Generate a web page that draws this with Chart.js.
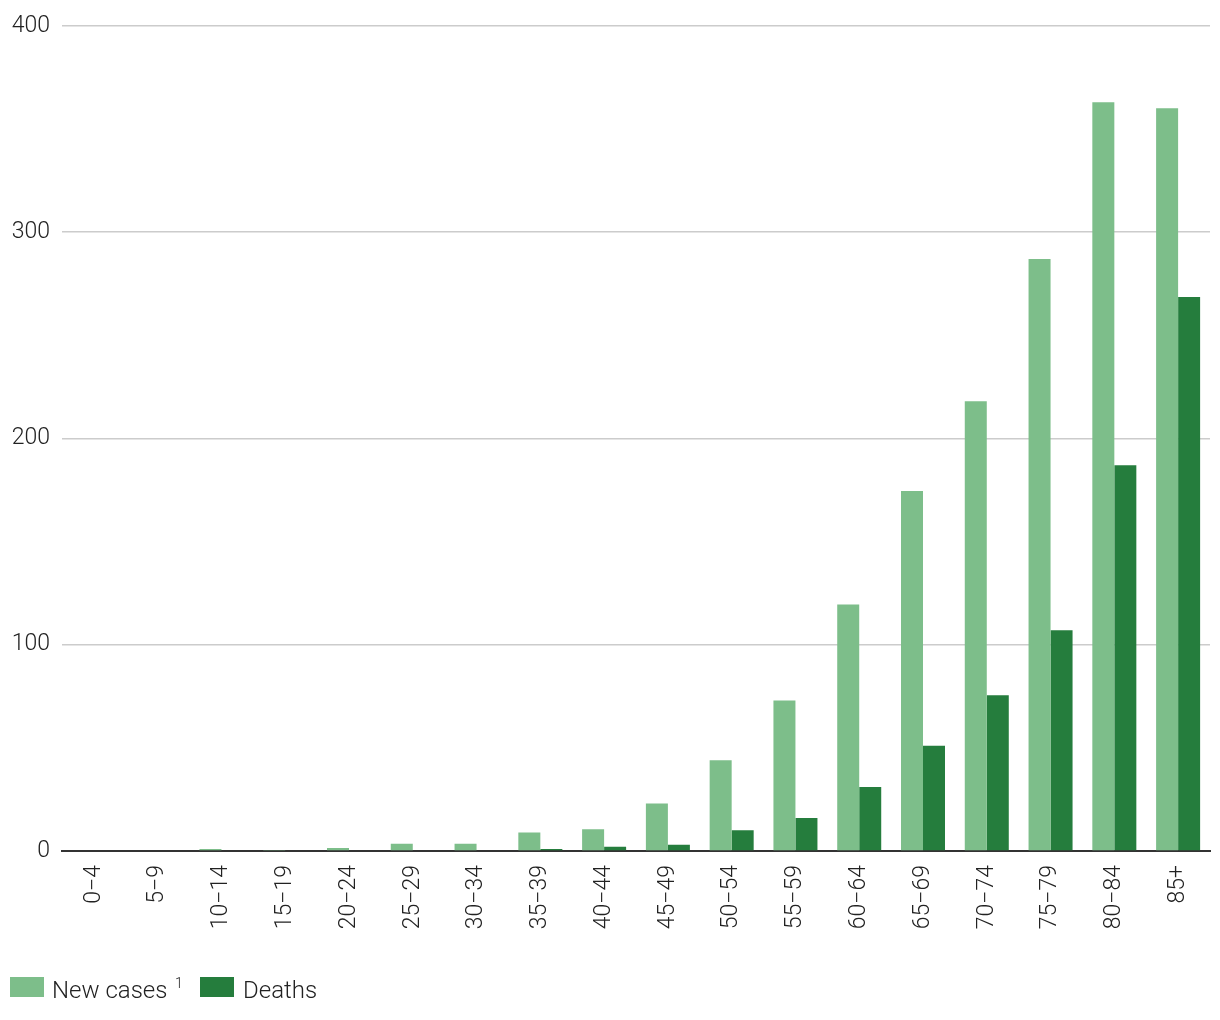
<!DOCTYPE html>
<html>
<head>
<meta charset="utf-8">
<script src="https://cdn.jsdelivr.net/npm/chart.js@4/dist/chart.umd.min.js"></script>
<style>
  html, body { margin: 0; padding: 0; background: #ffffff; }
  #wrap { width: 1220px; height: 1020px; position: relative; }
  #legend { position: absolute; left: 0; top: 0; width: 1220px; height: 1020px; pointer-events: none;
            font-family: Roboto, 'Noto Sans', sans-serif; font-weight: 300; color: #222; }
  #legend .box { position: absolute; width: 34px; height: 20px; }
  #legend .txt { position: absolute; font-size: 24px; line-height: 24px; white-space: nowrap; }
  #legend .sup { position: absolute; font-size: 14px; line-height: 14px; }
</style>
</head>
<body>
<div id="wrap"><canvas id="c"></canvas><div id="legend"></div></div>
<script>
const categories = ["0−4","5−9","10−14","15−19","20−24","25−29","30−34","35−39","40−44","45−49","50−54","55−59","60−64","65−69","70−74","75−79","80−84","85+"];
const newCases = [0, 0, 1, 0.5, 1.5, 3.5, 3.5, 9, 10.5, 23, 44, 73, 119.5, 174.5, 218, 287, 363, 360];
const deaths = [0, 0, 0, 0, 0, 0, 0, 1, 2, 3, 10, 16, 31, 51, 75.5, 107, 187, 268.5];
const yTicks = [0, 100, 200, 300, 400];
const seriesNames = ["New cases", "Deaths"];
const seriesColors = ["#7dbe8a", "#257d3d"];
const footnoteMark = "1";

const FONT = "Roboto, 'Noto Sans', sans-serif";

const chart = new Chart(document.getElementById('c'), {
  type: 'bar',
  data: {
    labels: categories,
    datasets: [
      { label: seriesNames[0], data: newCases, backgroundColor: seriesColors[0] },
      { label: seriesNames[1], data: deaths, backgroundColor: seriesColors[1] }
    ]
  },
  options: {
    responsive: true,
    maintainAspectRatio: false,
    animation: false,
    datasets: { bar: { categoryPercentage: 0.69, barPercentage: 1.0 } },
    layout: { padding: { left: 0, right: 10, top: 25, bottom: 56 } },
    plugins: {
      tooltip: { enabled: false },
      legend: { display: false }
    },
    scales: {
      x: {
        afterFit: (s) => { s.height = 113; },
        grid: { display: false, drawTicks: false },
        border: { display: true, color: '#333333', width: 2 },
        ticks: {
          minRotation: 90, maxRotation: 90,
          padding: 14,
          color: '#222',
          font: { family: FONT, size: 23, weight: '300' }
        }
      },
      y: {
        min: 0, max: 400,
        afterBuildTicks: (s) => { s.ticks = yTicks.map(v => ({ value: v })); },
        afterFit: (s) => { s.width = 62; },
        grid: { color: '#cccccc', lineWidth: 1.5, drawTicks: false },
        border: { display: false },
        ticks: {
          crossAlign: 'near',
          padding: 12,
          color: '#222',
          font: { family: FONT, size: 23, weight: '300' }
        }
      }
    }
  }
});

// HTML legend built from the chart's datasets
(function buildLegend() {
  const lg = document.getElementById('legend');
  const items = [
    { boxX: 10, textX: 52, supX: 175 },
    { boxX: 200, textX: 243, supX: null }
  ];
  chart.data.datasets.forEach((ds, i) => {
    const it = items[i];
    const b = document.createElement('div');
    b.className = 'box';
    b.style.left = it.boxX + 'px';
    b.style.top = '977px';
    b.style.background = ds.backgroundColor;
    lg.appendChild(b);
    const t = document.createElement('span');
    t.className = 'txt';
    t.style.left = it.textX + 'px';
    t.style.top = '978px';
    t.textContent = ds.label;
    lg.appendChild(t);
    if (i === 0) {
      const s = document.createElement('span');
      s.className = 'sup';
      s.style.left = it.supX + 'px';
      s.style.top = '976px';
      s.textContent = footnoteMark;
      lg.appendChild(s);
    }
  });
})();
</script>
</body>
</html>
